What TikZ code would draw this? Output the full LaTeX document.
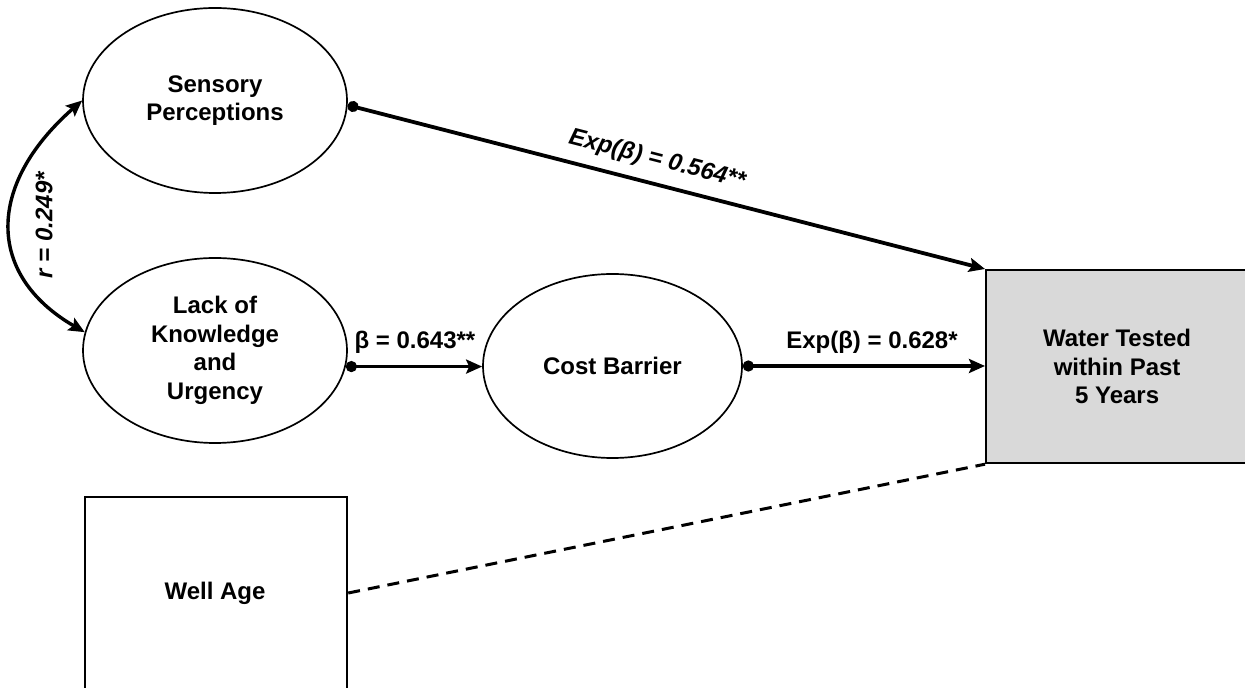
\documentclass[tikz,border=0pt]{standalone}
\usepackage{fontspec}
\setmainfont{Liberation Sans}
\usetikzlibrary{arrows.meta,shapes.geometric,calc}
\definecolor{boxgray}{HTML}{D9D9D9}
\tikzset{
  lat/.style={draw, ellipse, line width=0.85pt, inner sep=0pt, align=center,
    font=\fontsize{12}{14.3}\selectfont\bfseries},
  obs/.style={draw, rectangle, line width=1.1pt, inner sep=0pt, align=center,
    font=\fontsize{12}{14.3}\selectfont\bfseries},
  path/.style={line width=1.9pt, {Circle[length=5.5pt]}-{Stealth[length=8pt,width=7pt,inset=1.5pt]}},
  corr/.style={line width=1.7pt, {Stealth[length=8pt,width=7pt,inset=1.5pt]}-{Stealth[length=8pt,width=7pt,inset=1.5pt]}},
  lab/.style={font=\fontsize{12}{14.3}\selectfont\bfseries, inner sep=0pt},
  ilab/.style={font=\fontsize{12}{14.3}\selectfont\bfseries\itshape, inner sep=0pt},
}
\begin{document}
\begin{tikzpicture}[x=0.5pt,y=-0.5pt]
\useasboundingbox (0,0) rectangle (1245,688);
\node[lat, minimum width=132pt, minimum height=92.5pt] (sp) at (215,100.5) {Sensory\\Perceptions};
\node[lat, minimum width=132pt, minimum height=92.5pt] (lk) at (215,350.5) {Lack of\\Knowledge\\and\\Urgency};
\node[lat, minimum width=129.5pt, minimum height=92pt] (cb) at (612.5,366) {Cost Barrier};
\node[obs, fill=boxgray, minimum width=131pt, minimum height=96.5pt, anchor=north west] (wt) at (985,269) {Water Tested\\within Past\\5 Years};
\node[obs, minimum width=131pt, minimum height=98pt, anchor=north west] (wa) at (84,496) {};
\node[lab] (wat) at (215,593) {Well Age};

\draw[path] (sp.-2) -- (wt.north west);
\draw[path] (lk.-7) -- (lk.-7 -| cb.west);
\draw[path] (cb.east) -- (cb.east -| wt.west);
\draw[line width=1.5pt, dash pattern=on 6pt off 4pt] (wa.east |- wat) -- (wt.south west);
\draw[corr] (sp.west) .. controls (-14,185) and (-14,275) .. (lk.172);

\node[ilab, rotate=-14.4] (l1) at (657,160) {Exp(β) = 0.564**};
\node[lab] (l2) at (415,342) {β = 0.643**};
\node[lab] (l3) at (872,342) {Exp(β) = 0.628*};
\node[ilab, rotate=90] (l4) at (44,225) {r = 0.249*};
\end{tikzpicture}
\end{document}
